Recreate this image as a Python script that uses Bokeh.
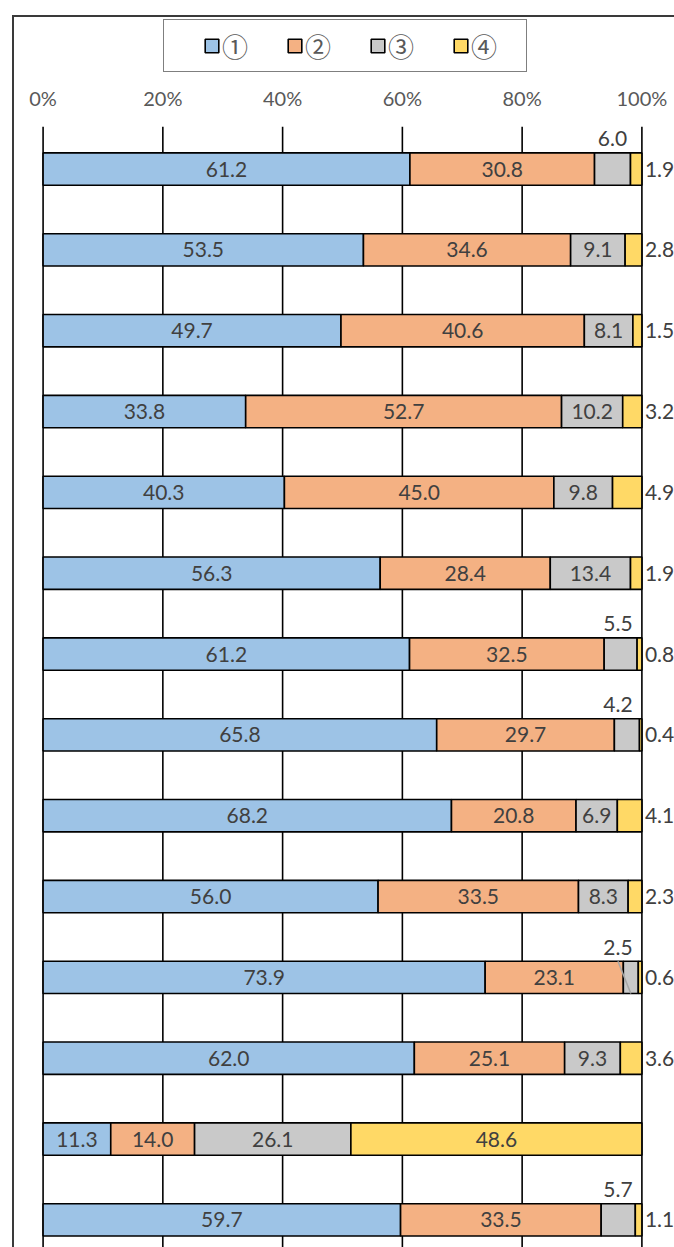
from bokeh.plotting import figure
from bokeh.models import ColumnDataSource, Range1d, FixedTicker, Legend, LegendItem
from bokeh.core.properties import value
from bokeh.embed import file_html
from bokeh.resources import INLINE

# ---------------- data ----------------
series_names = ["①", "②", "③", "④"]
colors = ["#9DC3E6", "#F4B183", "#C9C9C9", "#FFD966"]
s1 = [61.2, 53.5, 49.7, 33.8, 40.3, 56.3, 61.2, 65.8, 68.2, 56.0, 73.9, 62.0, 11.3, 59.7]
s2 = [30.8, 34.6, 40.6, 52.7, 45.0, 28.4, 32.5, 29.7, 20.8, 33.5, 23.1, 25.1, 14.0, 33.5]
s3 = [6.0, 9.1, 8.1, 10.2, 9.8, 13.4, 5.5, 4.2, 6.9, 8.3, 2.5, 9.3, 26.1, 5.7]
s4 = [1.9, 2.8, 1.5, 3.2, 4.9, 1.9, 0.8, 0.4, 4.1, 2.3, 0.6, 3.6, 48.6, 1.1]
tick_values = [0, 20, 40, 60, 80, 100]
tick_labels = ["0%", "20%", "40%", "60%", "80%", "100%"]

# ---------------- layout constants (page px) ----------------
PX0, PX100 = 42.5, 639.5
ROW0, ROWSTEP = 168.3, 80.7
CANVAS_X, CANVAS_Y = 14.0, 17.0
W, H = 660, 1230
PLOT_TOP = 126.0          # where the gridlines start
ppu = (PX100 - PX0) / 100.0
xs = (CANVAS_X - PX0) / ppu
xe = (CANVAS_X + W - PX0) / ppu
yt = (CANVAS_Y - ROW0) / ROWSTEP
yb = (CANVAS_Y + H - ROW0) / ROWSTEP
y_plot_top = (PLOT_TOP - ROW0) / ROWSTEP

series = [s1, s2, s3, s4]
n = len(s1)
rows = list(range(n))
totals = [sum(v) for v in zip(*series)]
pct = [[v / t * 100.0 for v, t in zip(s, totals)] for s in series]
lefts, rights = [], []
acc = [0.0] * n
for s in pct:
    lefts.append(list(acc))
    acc = [a + v for a, v in zip(acc, s)]
    rights.append(list(acc))

p = figure(width=W, height=H,
           x_range=Range1d(xs, xe), y_range=Range1d(yb, yt),
           x_axis_location="above", y_axis_location=None,
           toolbar_location=None, output_backend="svg",
           min_border=0)
p.outline_line_color = None
p.background_fill_color = "white"
p.border_fill_color = "white"
p.margin = (15, 0, 0, 12)
p.styles = {"box-sizing": "content-box",
            "border-top": "2px solid #3a3a3a", "border-left": "2px solid #3a3a3a"}
p.xgrid.visible = False
p.ygrid.visible = False

# axis (tick labels on top), drawn at the top of the plotting area
ax = p.xaxis[0]
ax.fixed_location = y_plot_top
ax.ticker = FixedTicker(ticks=tick_values)
ax.major_label_overrides = {v: l for v, l in zip(tick_values, tick_labels)}
ax.axis_line_color = None
ax.major_tick_line_color = None
ax.minor_tick_line_color = None
ax.major_tick_out = 0
ax.major_tick_in = 0
ax.major_label_standoff = 17
ax.major_label_text_font = "Lato"
ax.major_label_text_font_size = "20px"
ax.major_label_text_color = "#595959"

# vertical gridlines at the tick values, from the plot top downwards
p.segment(x0=tick_values, y0=[y_plot_top] * len(tick_values),
          x1=tick_values, y1=[yb + 1] * len(tick_values),
          line_color="black", line_width=1.6)

# bars
renderers = []
for k in range(4):
    src = ColumnDataSource(dict(y=rows, left=lefts[k], right=rights[k]))
    r = p.hbar(y="y", left="left", right="right", height=0.4, source=src,
               fill_color=colors[k], line_color="black", line_width=1.6)
    renderers.append(r)

# labels
cx, cy, ct = [], [], []
rx, ry, rt = [], [], []
lx0, ly0, lx1, ly1 = [], [], [], []
for i in rows:
    for k in range(4):
        v = series[k][i]
        lo, hi = lefts[k][i], rights[k][i]
        mid = (lo + hi) / 2
        txt = f"{v:.1f}"
        if k == 2 and v < 6.5:
            xlab = min(mid, 96.0)
            cx.append(xlab); cy.append(i - 0.375); ct.append(txt)
            if hi - lo < 3.0:
                lx0.append(xlab); ly0.append(i - 0.2); lx1.append(mid); ly1.append(i + 0.2)
        elif k == 3 and v < 10:
            rx.append(100.5); ry.append(i); rt.append(txt)
        else:
            cx.append(mid); cy.append(i); ct.append(txt)

if lx0:
    p.segment(x0=lx0, y0=ly0, x1=lx1, y1=ly1, line_color="#A6A6A6", line_width=1.5)

p.text(x=cx, y=cy, text=ct, text_align="center", text_baseline="alphabetic",
       text_font=value("Lato"), text_font_size="21px", text_color="#404040")
p.text(x=rx, y=ry, text=rt, text_align="left", text_baseline="alphabetic",
       text_font=value("Lato"), text_font_size="21px", text_color="#404040")

# legend (inside the canvas, top centre)
PAD = 7
legend = Legend(items=[LegendItem(label=nm, renderers=[r]) for nm, r in zip(series_names, renderers)],
                orientation="horizontal", location="top_center",
                margin=2, padding=PAD, spacing=16,
                glyph_width=17, glyph_height=17, label_standoff=2, label_width=48,
                label_text_font="Noto Sans CJK JP", label_text_font_size="26px",
                label_text_color="#595959",
                border_line_color="black", border_line_width=1.6,
                background_fill_color="white", background_fill_alpha=1.0)
if "title_location" in Legend.properties():
    legend.title = " "
    legend.title_location = "left"
    legend.title_text_font_size = "1px"
    legend.title_standoff = 31
p.add_layout(legend)

open("out.html", "w").write(file_html(p, INLINE))
